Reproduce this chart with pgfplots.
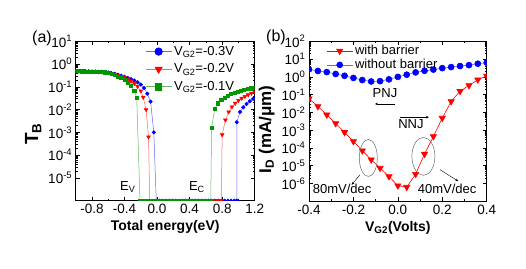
\documentclass[border=0pt]{standalone}
\usepackage{fontspec}
\setmainfont{Liberation Sans}
\usepackage{pgfplots}
\pgfplotsset{compat=1.18}
\usetikzlibrary{arrows.meta}
\definecolor{cb}{RGB}{0,0,255}
\definecolor{cr}{RGB}{255,0,0}
\definecolor{cg}{RGB}{0,150,0}
\definecolor{cbl}{RGB}{100,100,255}
\definecolor{crl}{RGB}{255,100,100}
\definecolor{cgl}{RGB}{100,185,100}
\pgfplotsset{
  common/.style={
    scale only axis,
    axis line style={line width=0.8pt},
    every tick/.style={black, line width=0.6pt},
    major tick length=4pt, minor tick length=2pt,
    tick label style={font=\fontsize{13.5}{15}\selectfont},
    /pgf/number format/assume math mode=true,
    xticklabel style={/pgf/number format/.cd, fixed, fixed zerofill, precision=1},
    label style={font=\fontsize{14}{16}\selectfont\bfseries},
    legend cell align=left,
    clip marker paths=true,
  }
}
\begin{document}
\begin{tikzpicture}
\path (0pt,0pt) rectangle (526pt,268pt);
% ---------------- (a)
\begin{axis}[common, ymode=log,
  legend image code/.code={\draw[mark repeat=2,mark phase=2,#1] plot coordinates {(0pt,0pt) (13pt,0pt) (26pt,0pt)};},
  at={(75.7pt,67.3pt)}, anchor=south west, width=179pt, height=159.4pt,
  xmin=-1, xmax=1.2, ymin=1e-6, ymax=10,
  xtick={-0.8,-0.4,0,0.4,0.8,1.2}, minor x tick num=1,
  ytick={1e-5,1e-4,1e-3,1e-2,1e-1,1,10},
  yticklabels={10\textsuperscript{-5},10\textsuperscript{-4},10\textsuperscript{-3},10\textsuperscript{-2},10\textsuperscript{-1},10\textsuperscript{0},10\textsuperscript{1}},
  xlabel={Total energy(eV)},
  ylabel={\fontsize{19}{21}\selectfont T\textsubscript{B}},
  ylabel style={at={(ticklabel cs:0.42)}},
  legend style={draw=none, fill=none, at={(0.37,0.995)}, anchor=north west,
    font=\fontsize{13}{15}\selectfont, row sep=3pt},
]
\addlegendimage{cbl, line width=0.6pt, mark=*, mark size=3.8pt, mark options={draw=cb, fill=cb}}
\addlegendentry{V\textsubscript{G2}=-0.3V}
\addlegendimage{crl, line width=0.6pt, mark=triangle*, mark size=4.2pt, mark options={draw=cr, fill=cr, rotate=180}}
\addlegendentry{V\textsubscript{G2}=-0.2V}
\addlegendimage{cgl, line width=1pt, mark=square*, mark size=3.3pt, mark options={draw=cg, fill=cg}}
\addlegendentry{V\textsubscript{G2}=-0.1V}
% blue
\addplot[cbl, line width=0.5pt, mark=*, mark size=1.8pt, mark options={draw=cb, fill=cb}, forget plot] coordinates {
(-1.00,0.490) (-0.96,0.490) (-0.92,0.485) (-0.88,0.479) (-0.84,0.479) (-0.80,0.474) (-0.76,0.468) (-0.72,0.462) (-0.68,0.457)
(-0.64,0.447) (-0.60,0.427) (-0.56,0.398) (-0.52,0.372) (-0.48,0.339) (-0.44,0.309) (-0.40,0.275) (-0.36,0.245)
(-0.32,0.219) (-0.28,0.191) (-0.24,0.158) (-0.20,0.126) (-0.16,0.0891) (-0.12,0.0501) (-0.08,0.0224) (-0.04,0.001)
(-0.01,1e-6) (0.03,1e-6) (0.07,1e-6) (0.11,1e-6) (0.15,1e-6) (0.19,1e-6) (0.23,1e-6) (0.27,1e-6) (0.31,1e-6)
(0.35,1e-6) (0.39,1e-6) (0.43,1e-6) (0.47,1e-6) (0.51,1e-6) (0.55,1e-6) (0.59,1e-6) (0.63,1e-6) (0.67,1e-6)
(0.71,1e-6) (0.75,1e-6) (0.79,1e-6) (0.83,1e-6) (0.87,1e-6) (0.91,1e-6) (0.95,1e-6) (0.98,1e-6)
(0.98,2.8e-3) (1.02,7.9e-3) (1.06,0.0126) (1.10,0.0178) (1.14,0.0234) (1.18,0.0295) (1.20,0.0331)
};
% red
\addplot[crl, line width=0.5pt, mark=triangle*, mark size=2.2pt, mark options={draw=cr, fill=cr, rotate=180}, forget plot] coordinates {
(-1.00,0.490) (-0.96,0.490) (-0.92,0.485) (-0.88,0.479) (-0.84,0.479) (-0.80,0.474) (-0.76,0.468) (-0.72,0.462) (-0.68,0.457)
(-0.64,0.447) (-0.60,0.417) (-0.56,0.389) (-0.52,0.355) (-0.48,0.324) (-0.44,0.288) (-0.40,0.251) (-0.36,0.214)
(-0.32,0.178) (-0.28,0.141) (-0.24,0.105) (-0.20,0.0661) (-0.17,0.0347) (-0.135,0.01) (-0.105,6.3e-4)
(-0.09,1e-6) (-0.05,1e-6) (-0.01,1e-6) (0.03,1e-6) (0.07,1e-6) (0.11,1e-6) (0.15,1e-6) (0.19,1e-6) (0.23,1e-6)
(0.27,1e-6) (0.31,1e-6) (0.35,1e-6) (0.39,1e-6) (0.43,1e-6) (0.47,1e-6) (0.51,1e-6) (0.55,1e-6) (0.59,1e-6)
(0.63,1e-6) (0.67,1e-6) (0.71,1e-6) (0.75,1e-6) (0.79,1e-6)
(0.80,7.9e-4) (0.84,3.5e-3) (0.88,7.9e-3) (0.92,0.0132) (0.96,0.0191) (1.00,0.0251) (1.04,0.0316)
(1.08,0.038) (1.12,0.0447) (1.16,0.0525) (1.20,0.0603)
};
% green
\addplot[cgl, line width=0.5pt, mark=square*, mark size=1.6pt, mark options={draw=cg, fill=cg}, forget plot] coordinates {
(-1.00,0.490) (-0.96,0.490) (-0.92,0.485) (-0.88,0.479) (-0.84,0.479) (-0.80,0.474) (-0.76,0.468) (-0.72,0.462) (-0.68,0.457)
(-0.64,0.437) (-0.60,0.407) (-0.56,0.372) (-0.52,0.331) (-0.48,0.288) (-0.44,0.245) (-0.40,0.200) (-0.36,0.155)
(-0.32,0.112) (-0.28,0.0676) (-0.25,0.0339)
(-0.21,1e-6) (-0.17,1e-6) (-0.13,1e-6) (-0.09,1e-6) (-0.05,1e-6) (-0.01,1e-6) (0.03,1e-6) (0.07,1e-6) (0.11,1e-6)
(0.15,1e-6) (0.19,1e-6) (0.23,1e-6) (0.27,1e-6) (0.31,1e-6) (0.35,1e-6) (0.39,1e-6) (0.43,1e-6) (0.47,1e-6)
(0.51,1e-6) (0.55,1e-6) (0.59,1e-6) (0.63,1e-6) (0.66,1e-6)
(0.67,1.58e-3) (0.71,0.0112) (0.75,0.0191) (0.79,0.0263) (0.83,0.0339) (0.87,0.0417) (0.91,0.049)
(0.95,0.0562) (0.99,0.0631) (1.03,0.0692) (1.07,0.0759) (1.11,0.0813) (1.15,0.0871) (1.19,0.0933)
};
\node[font=\fontsize{13}{15}\selectfont] at (axis cs:-0.36,4e-6) {E\textsubscript{V}};
\node[font=\fontsize{13}{15}\selectfont] at (axis cs:0.49,4e-6) {E\textsubscript{C}};
\end{axis}
% ---------------- (b)
\begin{axis}[common, ymode=log,
  legend image code/.code={\draw[mark repeat=2,mark phase=2,#1] plot coordinates {(0pt,0pt) (13pt,0pt) (26pt,0pt)};},
  at={(309pt,66.7pt)}, anchor=south west, width=177.7pt, height=160pt,
  xmin=-0.4, xmax=0.4, ymin=1e-7, ymax=100,
  xtick={-0.4,-0.2,0,0.2,0.4}, minor x tick num=1,
  ytick={1e-6,1e-5,1e-4,1e-3,1e-2,1e-1,1,10,100},
  yticklabels={10\textsuperscript{-6},10\textsuperscript{-5},10\textsuperscript{-4},10\textsuperscript{-3},10\textsuperscript{-2},10\textsuperscript{-1},10\textsuperscript{0},10\textsuperscript{1},10\textsuperscript{2}},
  xlabel={V\textsubscript{G2}(Volts)},
  ylabel={\fontsize{17}{19}\selectfont I\textsubscript{D} (mA/μm)},
  ylabel style={at={(ticklabel cs:0.45)}},
  legend style={draw=none, fill=none, at={(0.08,1.0)}, anchor=north west,
    font=\fontsize{13}{15}\selectfont, row sep=-1pt},
]
\addplot[cr, line width=0.6pt, mark=triangle*, mark size=3.6pt, mark options={draw=cr, fill=cr, rotate=180}] coordinates {
(-0.40,0.0589) (-0.36,0.0219) (-0.32,7.41e-3) (-0.28,2.40e-3) (-0.24,7.59e-4) (-0.20,2.34e-4) (-0.16,7.08e-5)
(-0.12,2.19e-5) (-0.08,7.41e-6) (-0.04,2.51e-6) (0.00,7.59e-7) (0.04,6.31e-7) (0.08,3.39e-6) (0.12,4.57e-5)
(0.16,4.47e-4) (0.20,4.79e-3) (0.24,0.0417) (0.28,0.155) (0.32,0.331) (0.36,0.692) (0.40,1.12)
};
\addlegendentry{with barrier}
\addplot[cbl, line width=0.6pt, mark=*, mark size=3pt, mark options={draw=cb, fill=cb}] coordinates {
(-0.40,2.63) (-0.36,2.14) (-0.32,1.86) (-0.28,1.45) (-0.24,1.15) (-0.20,0.871) (-0.16,0.661) (-0.12,0.550)
(-0.08,0.575) (-0.04,0.724) (0.00,1.0) (0.04,1.32) (0.08,1.78) (0.12,2.19) (0.16,2.57) (0.20,3.09)
(0.24,3.55) (0.28,4.07) (0.32,4.57) (0.36,5.50) (0.40,6.31)
};
\addlegendentry{without barrier}
\node[font=\fontsize{13}{15}\selectfont] at (axis cs:-0.058,0.123) {PNJ};
\draw[-{Stealth[length=3pt,width=2.5pt]}, line width=0.5pt] (axis cs:-0.013,0.03) -- (axis cs:-0.103,0.03);
\node[font=\fontsize{13}{15}\selectfont] at (axis cs:0.059,2.2e-3) {NNJ};
\draw[-{Stealth[length=3pt,width=2.5pt]}, line width=0.5pt] (axis cs:0.008,5.4e-3) -- (axis cs:0.14,5.4e-3);
\draw[gray!80!black, line width=0.5pt] (axis cs:-0.133,2.75e-5) ellipse [x radius=9pt, y radius=18.5pt];
\draw[gray!80!black, line width=0.5pt] (axis cs:0.115,3.39e-5) ellipse [x radius=11.5pt, y radius=19pt];
\draw[-{Stealth[length=3pt,width=2.5pt]}, line width=0.4pt] (axis cs:-0.170,3.16e-6) -- (axis cs:-0.208,8.5e-7);
\draw[-{Stealth[length=3pt,width=2.5pt]}, line width=0.4pt] (axis cs:0.190,6.0e-6) -- (axis cs:0.272,1.35e-6);
\node[font=\fontsize{13}{15}\selectfont] at (axis cs:-0.251,4.9e-7) {80mV/dec};
\node[font=\fontsize{13}{15}\selectfont] at (axis cs:0.222,4.9e-7) {40mV/dec};
\end{axis}
\node[font=\fontsize{16}{18}\selectfont] at (42pt,230pt) {(a)};
\node[font=\fontsize{16}{18}\selectfont] at (276pt,231pt) {(b)};
\end{tikzpicture}
\end{document}
